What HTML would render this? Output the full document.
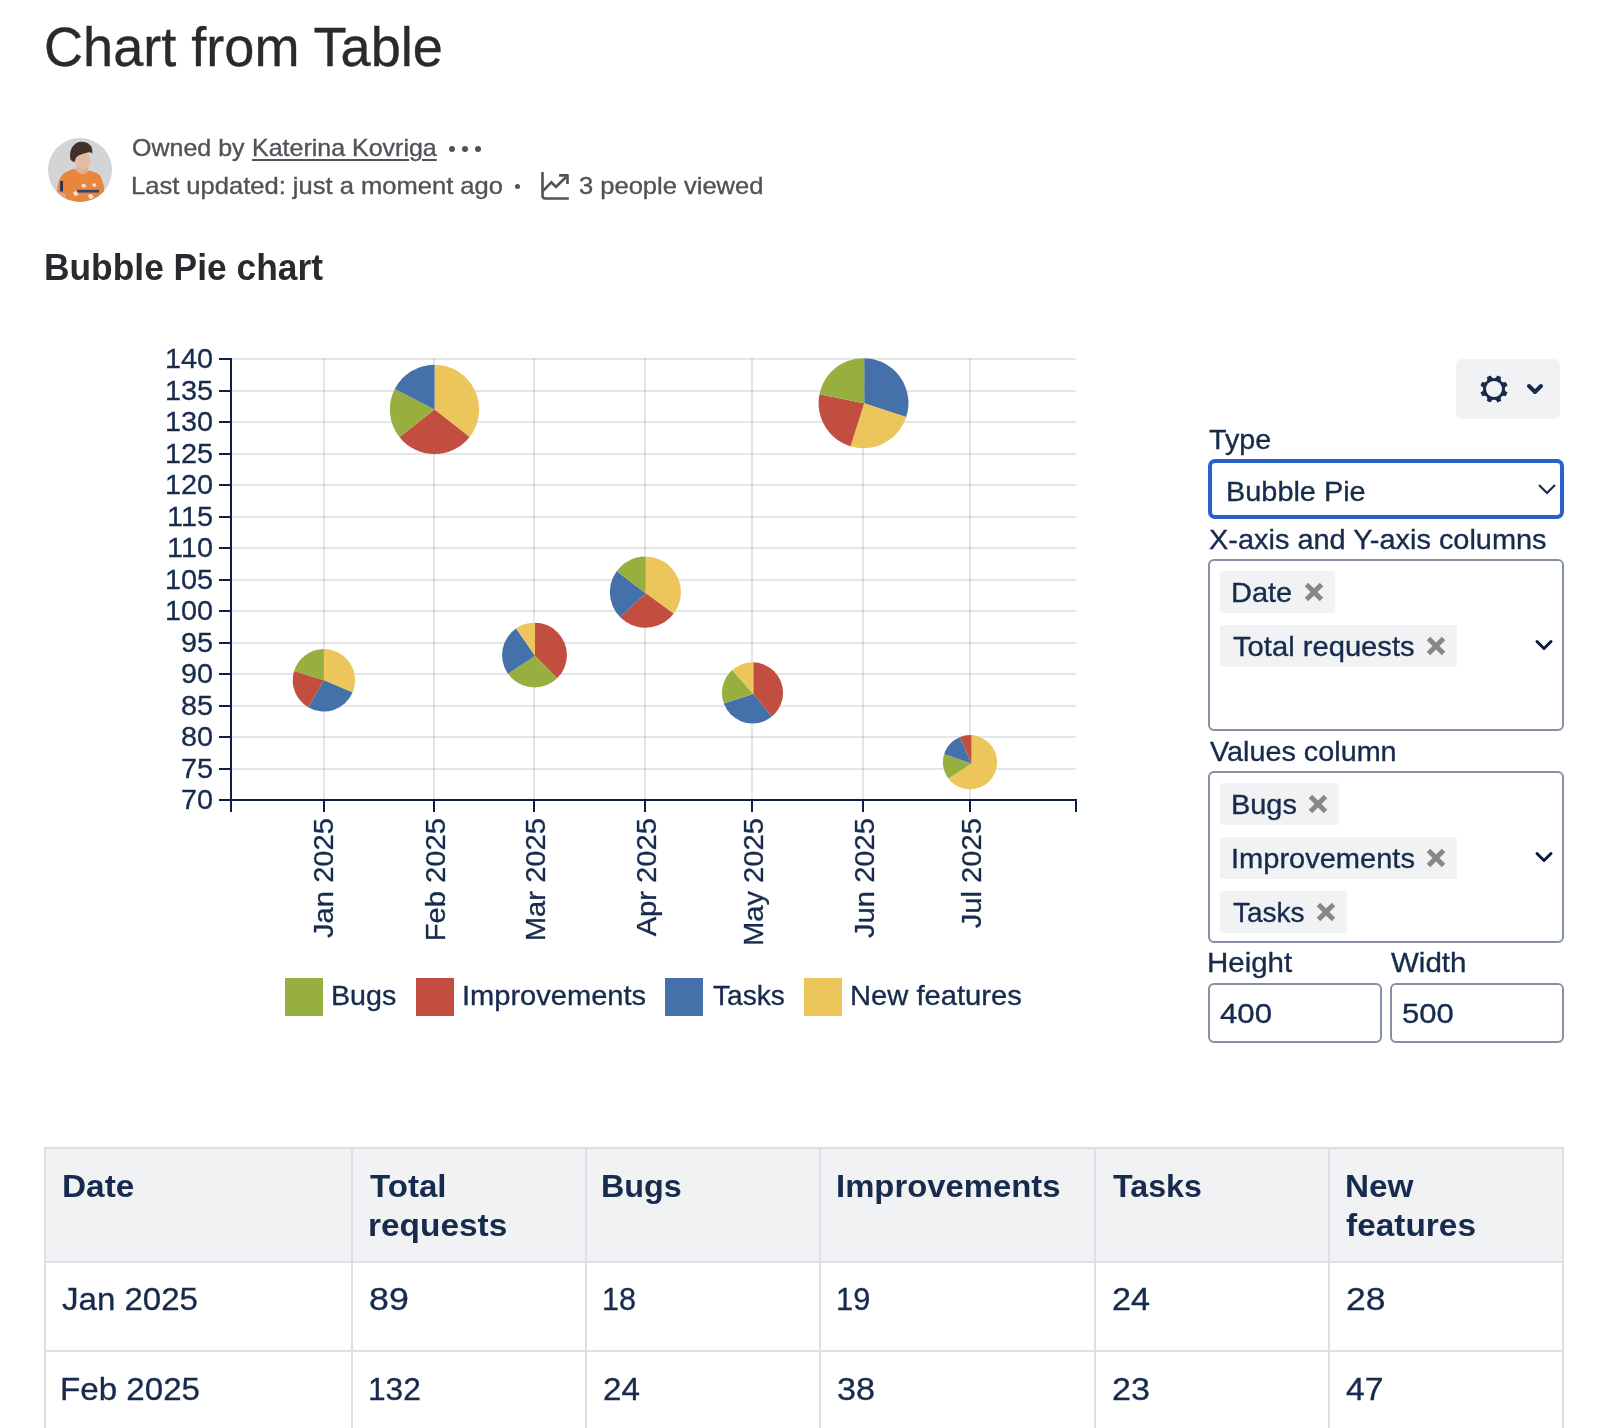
<!DOCTYPE html>
<html><head><meta charset="utf-8"><title>Chart from Table</title>
<style>
html,body{margin:0;padding:0;background:#fff;}
body{width:1600px;height:1428px;position:relative;overflow:hidden;font-family:"Liberation Sans", sans-serif;}
.t{position:absolute;white-space:pre;}
.r{-webkit-text-stroke:0.35px currentColor;}
.a{position:absolute;}
</style></head><body>
<div class="t r" style="left:44.26px;top:19.40px;font-size:56px;line-height:56px;color:#292A2E;font-weight:400;letter-spacing:0px;transform:scaleX(0.9659);transform-origin:0 0;">Chart from Table</div>
<svg class="a" style="left:48px;top:138px" width="64" height="64" viewBox="0 0 64 64">
<defs><clipPath id="av"><circle cx="32" cy="32" r="32"/></clipPath>
<filter id="bl" x="-10%" y="-10%" width="120%" height="120%"><feGaussianBlur stdDeviation="0.6"/></filter></defs>
<g clip-path="url(#av)">
<rect width="64" height="64" fill="#D3D4D5"/>
<g filter="url(#bl)">
<rect x="28.5" y="27" width="11.5" height="10" fill="#DDB096"/>
<ellipse cx="34.5" cy="22.5" rx="8" ry="9" fill="#E3BCA2"/>
<path d="M22.3,21 C21,12 25,4.5 33,3.8 C40,3.5 45.5,8 44.2,15.5 C43,14.5 41.5,14 40,14.5 C36,15.2 31,16.5 28,19.5 L26.5,24 C24.5,23.5 23,22.5 22.3,21Z" fill="#3F3129"/>
<path d="M9,54 C9.5,45 12,38 17,34.5 C21,32.5 24,31.5 27,30.8 C29.5,34.5 32,36.3 35,36.3 C37.5,36.3 39.5,34.5 40.5,32.3 C45,33.5 49,35 51.5,37 C54.5,41 56,48 56.5,54 L57,64 L8,64 Z" fill="#E8863C"/>
<path d="M9,53.8 L17.5,55.5 L18,61 L10,59Z" fill="#D8A58A"/>
<rect x="12.2" y="43" width="2.8" height="10.5" fill="#22305E"/>
<path d="M29,51.8 H51 V54.6 H29Z" fill="#3A3F70"/>
<path d="M33,47 l3.5,-1.5 l2,3 l-3.5,1.5Z M44,46 l3,-1 l1.5,3 l-3,1Z M25,54 l4,-1 l1.5,4 l-4,1Z M40,57 l4,-1 l1.5,4 l-4,1Z" fill="#F2E4DA"/>
</g>
</g></svg>
<div class="t r" style="left:131.95px;top:135.58px;font-size:24px;line-height:24px;color:#505258;font-weight:400;letter-spacing:0px;transform:scaleX(1.0415);transform-origin:0 0;">Owned by</div>
<div class="t r" style="left:251.82px;top:135.58px;font-size:24px;line-height:24px;color:#505258;font-weight:400;letter-spacing:0px;transform:scaleX(1.0411);transform-origin:0 0;text-decoration:underline;text-decoration-thickness:2px;text-underline-offset:3px;">Katerina Kovriga</div>
<div class="a" style="left:448.5px;top:145.6px;width:6.4px;height:6.4px;border-radius:50%;background:#505258"></div>
<div class="a" style="left:461.8px;top:145.6px;width:6.4px;height:6.4px;border-radius:50%;background:#505258"></div>
<div class="a" style="left:474.8px;top:145.6px;width:6.4px;height:6.4px;border-radius:50%;background:#505258"></div>
<div class="t r" style="left:131.08px;top:173.58px;font-size:24px;line-height:24px;color:#505258;font-weight:400;letter-spacing:0px;transform:scaleX(1.0640);transform-origin:0 0;">Last updated: just a moment ago</div>
<div class="a" style="left:514.6px;top:184.1px;width:5px;height:5px;border-radius:50%;background:#505258"></div>
<svg class="a" style="left:536px;top:168px" width="40" height="36" viewBox="536 168 40 36">
<path d="M542.5,172V195.5Q542.5,198.5 545.5,198.5H568.8" fill="none" stroke="#505258" stroke-width="2.6"/>
<path d="M543,190.8L551.4,182.4L556,187L566,177" fill="none" stroke="#505258" stroke-width="2.6" stroke-linejoin="miter"/>
<path d="M559.1,175.4H567.5V183.9" fill="none" stroke="#505258" stroke-width="2.6" stroke-linejoin="round"/>
</svg>
<div class="t r" style="left:579.34px;top:173.58px;font-size:24px;line-height:24px;color:#505258;font-weight:400;letter-spacing:0px;transform:scaleX(1.0630);transform-origin:0 0;">3 people viewed</div>
<div class="t" style="left:44.04px;top:250.13px;font-size:36px;line-height:36px;color:#292A2E;font-weight:700;letter-spacing:0px;transform:scaleX(0.9819);transform-origin:0 0;">Bubble Pie chart</div>
<svg class="a" style="left:0;top:0;will-change:transform" width="1100" height="960" viewBox="0 0 1100 960" font-family='"Liberation Sans", sans-serif'><rect x="231" y="358" width="845" height="2" fill="rgba(9,30,66,0.11)"/>
<rect x="231" y="390" width="845" height="2" fill="rgba(9,30,66,0.11)"/>
<rect x="231" y="421" width="845" height="2" fill="rgba(9,30,66,0.11)"/>
<rect x="231" y="453" width="845" height="2" fill="rgba(9,30,66,0.11)"/>
<rect x="231" y="484" width="845" height="2" fill="rgba(9,30,66,0.11)"/>
<rect x="231" y="516" width="845" height="2" fill="rgba(9,30,66,0.11)"/>
<rect x="231" y="547" width="845" height="2" fill="rgba(9,30,66,0.11)"/>
<rect x="231" y="579" width="845" height="2" fill="rgba(9,30,66,0.11)"/>
<rect x="231" y="610" width="845" height="2" fill="rgba(9,30,66,0.11)"/>
<rect x="231" y="642" width="845" height="2" fill="rgba(9,30,66,0.11)"/>
<rect x="231" y="673" width="845" height="2" fill="rgba(9,30,66,0.11)"/>
<rect x="231" y="705" width="845" height="2" fill="rgba(9,30,66,0.11)"/>
<rect x="231" y="736" width="845" height="2" fill="rgba(9,30,66,0.11)"/>
<rect x="231" y="768" width="845" height="2" fill="rgba(9,30,66,0.11)"/>
<rect x="231" y="799" width="845" height="2" fill="rgba(9,30,66,0.11)"/>
<rect x="323" y="358" width="2" height="442" fill="rgba(9,30,66,0.11)"/>
<rect x="433" y="358" width="2" height="442" fill="rgba(9,30,66,0.11)"/>
<rect x="533" y="358" width="2" height="442" fill="rgba(9,30,66,0.11)"/>
<rect x="644" y="358" width="2" height="442" fill="rgba(9,30,66,0.11)"/>
<rect x="751" y="358" width="2" height="442" fill="rgba(9,30,66,0.11)"/>
<rect x="862" y="358" width="2" height="442" fill="rgba(9,30,66,0.11)"/>
<rect x="969" y="358" width="2" height="442" fill="rgba(9,30,66,0.11)"/>
<path d="M323.90,680.30L323.90,649.10A31.20,31.20 0 0 1 352.57,692.62Z" fill="#ECC55B"/><path d="M323.90,680.30L352.57,692.62A31.20,31.20 0 0 1 308.14,707.23Z" fill="#4471AA"/><path d="M323.90,680.30L308.14,707.23A31.20,31.20 0 0 1 294.09,671.08Z" fill="#C14E3E"/><path d="M323.90,680.30L294.09,671.08A31.20,31.20 0 0 1 323.90,649.10Z" fill="#97AF3E"/>
<path d="M434.50,409.40L434.50,364.76A44.64,44.64 0 0 1 469.59,436.99Z" fill="#ECC55B"/><path d="M434.50,409.40L469.59,436.99A44.64,44.64 0 0 1 399.41,436.99Z" fill="#C14E3E"/><path d="M434.50,409.40L399.41,436.99A44.64,44.64 0 0 1 394.82,388.94Z" fill="#97AF3E"/><path d="M434.50,409.40L394.82,388.94A44.64,44.64 0 0 1 434.50,364.76Z" fill="#4471AA"/>
<clipPath id="pc534"><circle cx="534.50" cy="655.10" r="32.45"/></clipPath>
<g clip-path="url(#pc534)"><path d="M535.00,655.70L535.00,620.25A35.45,35.45 0 0 1 559.86,680.98Z" fill="#C14E3E"/><path d="M535.00,655.70L559.86,680.98A35.45,35.45 0 0 1 505.56,675.46Z" fill="#97AF3E"/><path d="M535.00,655.70L505.56,675.46A35.45,35.45 0 0 1 514.75,626.60Z" fill="#4471AA"/><path d="M535.00,655.70L514.75,626.60A35.45,35.45 0 0 1 535.00,620.25Z" fill="#ECC55B"/></g>
<clipPath id="pc645"><circle cx="645.40" cy="592.10" r="35.58"/></clipPath>
<g clip-path="url(#pc645)"><path d="M645.70,593.30L645.70,554.72A38.58,38.58 0 0 1 676.98,615.88Z" fill="#ECC55B"/><path d="M645.70,593.30L676.98,615.88A38.58,38.58 0 0 1 617.40,619.52Z" fill="#C14E3E"/><path d="M645.70,593.30L617.40,619.52A38.58,38.58 0 0 1 615.12,569.78Z" fill="#4471AA"/><path d="M645.70,593.30L615.12,569.78A38.58,38.58 0 0 1 645.70,554.72Z" fill="#97AF3E"/></g>
<clipPath id="pc752"><circle cx="752.50" cy="692.90" r="30.58"/></clipPath>
<g clip-path="url(#pc752)"><path d="M753.30,694.00L753.30,660.42A33.58,33.58 0 0 1 774.57,719.98Z" fill="#C14E3E"/><path d="M753.30,694.00L774.57,719.98A33.58,33.58 0 0 1 721.29,704.15Z" fill="#4471AA"/><path d="M753.30,694.00L721.29,704.15A33.58,33.58 0 0 1 731.10,668.81Z" fill="#97AF3E"/><path d="M753.30,694.00L731.10,668.81A33.58,33.58 0 0 1 753.30,660.42Z" fill="#ECC55B"/></g>
<clipPath id="pc863"><circle cx="863.50" cy="403.10" r="44.95"/></clipPath>
<g clip-path="url(#pc863)"><path d="M864.20,403.30L864.20,355.35A47.95,47.95 0 0 1 909.74,418.33Z" fill="#4471AA"/><path d="M864.20,403.30L909.74,418.33A47.95,47.95 0 0 1 849.71,449.01Z" fill="#ECC55B"/><path d="M864.20,403.30L849.71,449.01A47.95,47.95 0 0 1 817.21,393.74Z" fill="#C14E3E"/><path d="M864.20,403.30L817.21,393.74A47.95,47.95 0 0 1 864.20,355.35Z" fill="#97AF3E"/></g>
<clipPath id="pc970"><circle cx="970.00" cy="762.20" r="27.14"/></clipPath>
<g clip-path="url(#pc970)"><path d="M971.50,763.50L971.50,733.36A30.14,30.14 0 1 1 946.27,779.99Z" fill="#ECC55B"/><path d="M971.50,763.50L946.27,779.99A30.14,30.14 0 0 1 942.99,753.71Z" fill="#97AF3E"/><path d="M971.50,763.50L942.99,753.71A30.14,30.14 0 0 1 959.39,735.90Z" fill="#4471AA"/><path d="M971.50,763.50L959.39,735.90A30.14,30.14 0 0 1 971.50,733.36Z" fill="#C14E3E"/></g>
<rect x="230" y="358" width="2" height="443" fill="#0E1E44"/>
<rect x="219" y="358" width="12" height="2" fill="#0E1E44"/>
<text transform="translate(213,367.80) scale(1.03,1)" text-anchor="end" font-size="28" fill="#172B4D" stroke="#172B4D" stroke-width="0.3">140</text>
<rect x="219" y="390" width="12" height="2" fill="#0E1E44"/>
<text transform="translate(213,399.80) scale(1.03,1)" text-anchor="end" font-size="28" fill="#172B4D" stroke="#172B4D" stroke-width="0.3">135</text>
<rect x="219" y="421" width="12" height="2" fill="#0E1E44"/>
<text transform="translate(213,430.80) scale(1.03,1)" text-anchor="end" font-size="28" fill="#172B4D" stroke="#172B4D" stroke-width="0.3">130</text>
<rect x="219" y="453" width="12" height="2" fill="#0E1E44"/>
<text transform="translate(213,462.80) scale(1.03,1)" text-anchor="end" font-size="28" fill="#172B4D" stroke="#172B4D" stroke-width="0.3">125</text>
<rect x="219" y="484" width="12" height="2" fill="#0E1E44"/>
<text transform="translate(213,493.80) scale(1.03,1)" text-anchor="end" font-size="28" fill="#172B4D" stroke="#172B4D" stroke-width="0.3">120</text>
<rect x="219" y="516" width="12" height="2" fill="#0E1E44"/>
<text transform="translate(213,525.80) scale(1.03,1)" text-anchor="end" font-size="28" fill="#172B4D" stroke="#172B4D" stroke-width="0.3">115</text>
<rect x="219" y="547" width="12" height="2" fill="#0E1E44"/>
<text transform="translate(213,556.80) scale(1.03,1)" text-anchor="end" font-size="28" fill="#172B4D" stroke="#172B4D" stroke-width="0.3">110</text>
<rect x="219" y="579" width="12" height="2" fill="#0E1E44"/>
<text transform="translate(213,588.80) scale(1.03,1)" text-anchor="end" font-size="28" fill="#172B4D" stroke="#172B4D" stroke-width="0.3">105</text>
<rect x="219" y="610" width="12" height="2" fill="#0E1E44"/>
<text transform="translate(213,619.80) scale(1.03,1)" text-anchor="end" font-size="28" fill="#172B4D" stroke="#172B4D" stroke-width="0.3">100</text>
<rect x="219" y="642" width="12" height="2" fill="#0E1E44"/>
<text transform="translate(213,651.80) scale(1.03,1)" text-anchor="end" font-size="28" fill="#172B4D" stroke="#172B4D" stroke-width="0.3">95</text>
<rect x="219" y="673" width="12" height="2" fill="#0E1E44"/>
<text transform="translate(213,682.80) scale(1.03,1)" text-anchor="end" font-size="28" fill="#172B4D" stroke="#172B4D" stroke-width="0.3">90</text>
<rect x="219" y="705" width="12" height="2" fill="#0E1E44"/>
<text transform="translate(213,714.80) scale(1.03,1)" text-anchor="end" font-size="28" fill="#172B4D" stroke="#172B4D" stroke-width="0.3">85</text>
<rect x="219" y="736" width="12" height="2" fill="#0E1E44"/>
<text transform="translate(213,745.80) scale(1.03,1)" text-anchor="end" font-size="28" fill="#172B4D" stroke="#172B4D" stroke-width="0.3">80</text>
<rect x="219" y="768" width="12" height="2" fill="#0E1E44"/>
<text transform="translate(213,777.80) scale(1.03,1)" text-anchor="end" font-size="28" fill="#172B4D" stroke="#172B4D" stroke-width="0.3">75</text>
<rect x="219" y="799" width="12" height="2" fill="#0E1E44"/>
<text transform="translate(213,808.80) scale(1.03,1)" text-anchor="end" font-size="28" fill="#172B4D" stroke="#172B4D" stroke-width="0.3">70</text>
<rect x="230" y="799" width="847" height="2" fill="#0E1E44"/>
<rect x="230" y="799" width="2" height="13" fill="#0E1E44"/>
<rect x="1075" y="799" width="2" height="13" fill="#0E1E44"/>
<rect x="323" y="800" width="2" height="12" fill="#0E1E44"/>
<text transform="translate(333.20,818) rotate(-90) scale(1.042,1)" text-anchor="end" font-size="28" fill="#172B4D" stroke="#172B4D" stroke-width="0.3">Jan 2025</text>
<rect x="433" y="800" width="2" height="12" fill="#0E1E44"/>
<text transform="translate(444.60,818) rotate(-90) scale(1.042,1)" text-anchor="end" font-size="28" fill="#172B4D" stroke="#172B4D" stroke-width="0.3">Feb 2025</text>
<rect x="533" y="800" width="2" height="12" fill="#0E1E44"/>
<text transform="translate(544.50,818) rotate(-90) scale(1.042,1)" text-anchor="end" font-size="28" fill="#172B4D" stroke="#172B4D" stroke-width="0.3">Mar 2025</text>
<rect x="644" y="800" width="2" height="12" fill="#0E1E44"/>
<text transform="translate(655.50,818) rotate(-90) scale(1.042,1)" text-anchor="end" font-size="28" fill="#172B4D" stroke="#172B4D" stroke-width="0.3">Apr 2025</text>
<rect x="751" y="800" width="2" height="12" fill="#0E1E44"/>
<text transform="translate(762.80,818) rotate(-90) scale(1.042,1)" text-anchor="end" font-size="28" fill="#172B4D" stroke="#172B4D" stroke-width="0.3">May 2025</text>
<rect x="862" y="800" width="2" height="12" fill="#0E1E44"/>
<text transform="translate(873.60,818) rotate(-90) scale(1.042,1)" text-anchor="end" font-size="28" fill="#172B4D" stroke="#172B4D" stroke-width="0.3">Jun 2025</text>
<rect x="969" y="800" width="2" height="12" fill="#0E1E44"/>
<text transform="translate(980.50,818) rotate(-90) scale(1.042,1)" text-anchor="end" font-size="28" fill="#172B4D" stroke="#172B4D" stroke-width="0.3">Jul 2025</text></svg>
<div class="a" style="left:285px;top:978px;width:38px;height:38px;background:#97AF3E"></div>
<div class="t r" style="left:331.26px;top:982.10px;font-size:28px;line-height:28px;color:#172B4D;font-weight:400;letter-spacing:0px;transform:scaleX(1.0221);transform-origin:0 0;">Bugs</div>
<div class="a" style="left:416px;top:978px;width:38px;height:38px;background:#C14E3E"></div>
<div class="t r" style="left:462.23px;top:982.10px;font-size:28px;line-height:28px;color:#172B4D;font-weight:400;letter-spacing:0px;transform:scaleX(1.0377);transform-origin:0 0;">Improvements</div>
<div class="a" style="left:665px;top:978px;width:38px;height:38px;background:#4471AA"></div>
<div class="t r" style="left:713.26px;top:982.10px;font-size:28px;line-height:28px;color:#172B4D;font-weight:400;letter-spacing:0px;transform:scaleX(1.0034);transform-origin:0 0;">Tasks</div>
<div class="a" style="left:804px;top:978px;width:38px;height:38px;background:#ECC55B"></div>
<div class="t r" style="left:850.12px;top:982.10px;font-size:28px;line-height:28px;color:#172B4D;font-weight:400;letter-spacing:0px;transform:scaleX(1.0414);transform-origin:0 0;">New features</div>
<div class="a" style="left:1456px;top:359px;width:104px;height:60px;border-radius:6px;background:#F1F2F4"></div>
<svg class="a" style="left:1470px;top:365px" width="80" height="50" viewBox="1470 365 80 50">
<circle cx="1494" cy="389" r="13.75" fill="#172B4D"/>
<circle cx="1494.00" cy="375.10" r="3.1" fill="#F1F2F4"/><circle cx="1503.83" cy="379.17" r="3.1" fill="#F1F2F4"/><circle cx="1507.90" cy="389.00" r="3.1" fill="#F1F2F4"/><circle cx="1503.83" cy="398.83" r="3.1" fill="#F1F2F4"/><circle cx="1494.00" cy="402.90" r="3.1" fill="#F1F2F4"/><circle cx="1484.17" cy="398.83" r="3.1" fill="#F1F2F4"/><circle cx="1480.10" cy="389.00" r="3.1" fill="#F1F2F4"/><circle cx="1484.17" cy="379.17" r="3.1" fill="#F1F2F4"/>
<circle cx="1494" cy="389" r="8" fill="#F1F2F4"/>
<path d="M1529,386L1535,392L1541,386" fill="none" stroke="#172B4D" stroke-width="4" stroke-linecap="round" stroke-linejoin="round"/>
</svg>
<div class="t r" style="left:1209.05px;top:425.55px;font-size:28px;line-height:28px;color:#172B4D;font-weight:400;letter-spacing:0px;transform:scaleX(1.0232);transform-origin:0 0;">Type</div>
<div class="a" style="left:1208px;top:459px;width:356px;height:60px;box-sizing:border-box;border:4px solid #2761CC;border-radius:7px"></div>
<div class="t r" style="left:1226.49px;top:477.55px;font-size:28px;line-height:28px;color:#172B4D;font-weight:400;letter-spacing:0px;transform:scaleX(1.0313);transform-origin:0 0;">Bubble Pie</div>
<svg class="a" style="left:1530px;top:475px" width="30" height="30" viewBox="1530 475 30 30">
<path d="M1539,485L1547,493L1555,485" fill="none" stroke="#172B4D" stroke-width="2.2"/></svg>
<div class="t r" style="left:1209.05px;top:525.55px;font-size:28px;line-height:28px;color:#172B4D;font-weight:400;letter-spacing:0px;transform:scaleX(1.0329);transform-origin:0 0;">X-axis and Y-axis columns</div>
<div class="a" style="left:1208px;top:559px;width:356px;height:172px;box-sizing:border-box;border:2px solid #8590A2;border-radius:6px"></div>
<div class="a" style="left:1220px;top:571px;width:115px;height:42px;border-radius:3px;background:#F1F2F4"></div>
<div class="t r" style="left:1231.24px;top:578.50px;font-size:28px;line-height:28px;color:#172B4D;font-weight:400;letter-spacing:0px;transform:scaleX(1.0345);transform-origin:0 0;">Date</div>
<svg class="a" style="left:1304px;top:582.0px" width="20" height="20" viewBox="1304 582.0 20 20"><path d="M1306.5,584.5L1321.5,599.5M1321.5,584.5L1306.5,599.5" stroke="#888888" stroke-width="5"/></svg>

<div class="a" style="left:1220px;top:625px;width:237px;height:42px;border-radius:3px;background:#F1F2F4"></div>
<div class="t r" style="left:1233.04px;top:632.50px;font-size:28px;line-height:28px;color:#172B4D;font-weight:400;letter-spacing:0px;transform:scaleX(1.0419);transform-origin:0 0;">Total requests</div>
<svg class="a" style="left:1426px;top:636.0px" width="20" height="20" viewBox="1426 636.0 20 20"><path d="M1428.5,638.5L1443.5,653.5M1443.5,638.5L1428.5,653.5" stroke="#888888" stroke-width="5"/></svg>

<svg class="a" style="left:1530px;top:629.5px" width="30" height="30" viewBox="1530 629.5 30 30"><path d="M1537,641.0L1544,648.0L1551,641.0" fill="none" stroke="#0C1A3F" stroke-width="3" stroke-linecap="round" stroke-linejoin="round"/></svg>
<div class="t r" style="left:1209.50px;top:737.55px;font-size:28px;line-height:28px;color:#172B4D;font-weight:400;letter-spacing:0px;transform:scaleX(1.0278);transform-origin:0 0;">Values column</div>
<div class="a" style="left:1208px;top:771px;width:356px;height:172px;box-sizing:border-box;border:2px solid #8590A2;border-radius:6px"></div>
<div class="a" style="left:1220px;top:783px;width:119px;height:42px;border-radius:3px;background:#F1F2F4"></div>
<div class="t r" style="left:1231.24px;top:790.50px;font-size:28px;line-height:28px;color:#172B4D;font-weight:400;letter-spacing:0px;transform:scaleX(1.0328);transform-origin:0 0;">Bugs</div>
<svg class="a" style="left:1308px;top:794.0px" width="20" height="20" viewBox="1308 794.0 20 20"><path d="M1310.5,796.5L1325.5,811.5M1325.5,796.5L1310.5,811.5" stroke="#888888" stroke-width="5"/></svg>

<div class="a" style="left:1220px;top:837px;width:237px;height:42px;border-radius:3px;background:#F1F2F4"></div>
<div class="t r" style="left:1231.23px;top:844.50px;font-size:28px;line-height:28px;color:#172B4D;font-weight:400;letter-spacing:0px;transform:scaleX(1.0368);transform-origin:0 0;">Improvements</div>
<svg class="a" style="left:1426px;top:848.0px" width="20" height="20" viewBox="1426 848.0 20 20"><path d="M1428.5,850.5L1443.5,865.5M1443.5,850.5L1428.5,865.5" stroke="#888888" stroke-width="5"/></svg>

<div class="a" style="left:1220px;top:891px;width:127px;height:42px;border-radius:3px;background:#F1F2F4"></div>
<div class="t r" style="left:1233.06px;top:898.50px;font-size:28px;line-height:28px;color:#172B4D;font-weight:400;letter-spacing:0px;transform:scaleX(0.9999);transform-origin:0 0;">Tasks</div>
<svg class="a" style="left:1316px;top:902.0px" width="20" height="20" viewBox="1316 902.0 20 20"><path d="M1318.5,904.5L1333.5,919.5M1333.5,904.5L1318.5,919.5" stroke="#888888" stroke-width="5"/></svg>

<svg class="a" style="left:1530px;top:842px" width="30" height="30" viewBox="1530 842 30 30"><path d="M1537,853.5L1544,860.5L1551,853.5" fill="none" stroke="#0C1A3F" stroke-width="3" stroke-linecap="round" stroke-linejoin="round"/></svg>
<div class="t r" style="left:1207.20px;top:949.30px;font-size:28px;line-height:28px;color:#172B4D;font-weight:400;letter-spacing:0px;transform:scaleX(1.0527);transform-origin:0 0;">Height</div>
<div class="t r" style="left:1391.25px;top:949.30px;font-size:28px;line-height:28px;color:#172B4D;font-weight:400;letter-spacing:0px;transform:scaleX(1.0536);transform-origin:0 0;">Width</div>
<div class="a" style="left:1208px;top:983px;width:174px;height:60px;box-sizing:border-box;border:2px solid #8590A2;border-radius:6px"></div>
<div class="a" style="left:1390px;top:983px;width:174px;height:60px;box-sizing:border-box;border:2px solid #8590A2;border-radius:6px"></div>
<div class="t r" style="left:1220.01px;top:999.55px;font-size:28px;line-height:28px;color:#172B4D;font-weight:400;letter-spacing:0px;transform:scaleX(1.1134);transform-origin:0 0;">400</div>
<div class="t r" style="left:1401.53px;top:999.55px;font-size:28px;line-height:28px;color:#172B4D;font-weight:400;letter-spacing:0px;transform:scaleX(1.1076);transform-origin:0 0;">500</div>
<div class="a" style="left:44px;top:1147px;width:1520px;height:116px;background:#F1F2F4"></div>
<div class="a" style="left:44px;top:1147px;width:1520px;height:2px;background:#DCDFE4"></div>
<div class="a" style="left:44px;top:1261px;width:1520px;height:2px;background:#DCDFE4"></div>
<div class="a" style="left:44px;top:1350px;width:1520px;height:2px;background:#DCDFE4"></div>
<div class="a" style="left:44px;top:1147px;width:2px;height:300px;background:#DCDFE4"></div>
<div class="a" style="left:351px;top:1147px;width:2px;height:300px;background:#DCDFE4"></div>
<div class="a" style="left:585px;top:1147px;width:2px;height:300px;background:#DCDFE4"></div>
<div class="a" style="left:819px;top:1147px;width:2px;height:300px;background:#DCDFE4"></div>
<div class="a" style="left:1094px;top:1147px;width:2px;height:300px;background:#DCDFE4"></div>
<div class="a" style="left:1328px;top:1147px;width:2px;height:300px;background:#DCDFE4"></div>
<div class="a" style="left:1562px;top:1147px;width:2px;height:300px;background:#DCDFE4"></div>
<div class="t" style="left:61.91px;top:1169.66px;font-size:32px;line-height:32px;color:#172B4D;font-weight:700;letter-spacing:0px;transform:scaleX(1.0426);transform-origin:0 0;">Date</div>
<div class="t" style="left:369.70px;top:1169.66px;font-size:32px;line-height:32px;color:#172B4D;font-weight:700;letter-spacing:0px;transform:scaleX(1.0336);transform-origin:0 0;">Total</div>
<div class="t" style="left:367.61px;top:1209.26px;font-size:32px;line-height:32px;color:#172B4D;font-weight:700;letter-spacing:0px;transform:scaleX(1.0439);transform-origin:0 0;">requests</div>
<div class="t" style="left:601.38px;top:1169.66px;font-size:32px;line-height:32px;color:#172B4D;font-weight:700;letter-spacing:0px;transform:scaleX(1.0104);transform-origin:0 0;">Bugs</div>
<div class="t" style="left:835.95px;top:1169.66px;font-size:32px;line-height:32px;color:#172B4D;font-weight:700;letter-spacing:0px;transform:scaleX(1.0267);transform-origin:0 0;">Improvements</div>
<div class="t" style="left:1113.10px;top:1169.66px;font-size:32px;line-height:32px;color:#172B4D;font-weight:700;letter-spacing:0px;transform:scaleX(1.0050);transform-origin:0 0;">Tasks</div>
<div class="t" style="left:1345.42px;top:1169.66px;font-size:32px;line-height:32px;color:#172B4D;font-weight:700;letter-spacing:0px;transform:scaleX(1.0406);transform-origin:0 0;">New</div>
<div class="t" style="left:1346.38px;top:1209.26px;font-size:32px;line-height:32px;color:#172B4D;font-weight:700;letter-spacing:0px;transform:scaleX(1.0440);transform-origin:0 0;">features</div>
<div class="t r" style="left:62.18px;top:1283.31px;font-size:32px;line-height:32px;color:#172B4D;font-weight:400;letter-spacing:0px;transform:scaleX(1.0325);transform-origin:0 0;">Jan 2025</div>
<div class="t r" style="left:368.88px;top:1283.31px;font-size:32px;line-height:32px;color:#172B4D;font-weight:400;letter-spacing:0px;transform:scaleX(1.1172);transform-origin:0 0;">89</div>
<div class="t r" style="left:602.49px;top:1283.31px;font-size:32px;line-height:32px;color:#172B4D;font-weight:400;letter-spacing:0px;transform:scaleX(0.9567);transform-origin:0 0;">18</div>
<div class="t r" style="left:836.17px;top:1283.31px;font-size:32px;line-height:32px;color:#172B4D;font-weight:400;letter-spacing:0px;transform:scaleX(0.9629);transform-origin:0 0;">19</div>
<div class="t r" style="left:1112.10px;top:1283.31px;font-size:32px;line-height:32px;color:#172B4D;font-weight:400;letter-spacing:0px;transform:scaleX(1.0692);transform-origin:0 0;">24</div>
<div class="t r" style="left:1345.64px;top:1283.31px;font-size:32px;line-height:32px;color:#172B4D;font-weight:400;letter-spacing:0px;transform:scaleX(1.1099);transform-origin:0 0;">28</div>
<div class="t r" style="left:60.11px;top:1372.91px;font-size:32px;line-height:32px;color:#172B4D;font-weight:400;letter-spacing:0px;transform:scaleX(1.0356);transform-origin:0 0;">Feb 2025</div>
<div class="t r" style="left:368.02px;top:1372.91px;font-size:32px;line-height:32px;color:#172B4D;font-weight:400;letter-spacing:0px;transform:scaleX(0.9881);transform-origin:0 0;">132</div>
<div class="t r" style="left:602.84px;top:1372.91px;font-size:32px;line-height:32px;color:#172B4D;font-weight:400;letter-spacing:0px;transform:scaleX(1.0391);transform-origin:0 0;">24</div>
<div class="t r" style="left:837.03px;top:1372.91px;font-size:32px;line-height:32px;color:#172B4D;font-weight:400;letter-spacing:0px;transform:scaleX(1.0692);transform-origin:0 0;">38</div>
<div class="t r" style="left:1112.10px;top:1372.91px;font-size:32px;line-height:32px;color:#172B4D;font-weight:400;letter-spacing:0px;transform:scaleX(1.0641);transform-origin:0 0;">23</div>
<div class="t r" style="left:1346.47px;top:1372.91px;font-size:32px;line-height:32px;color:#172B4D;font-weight:400;letter-spacing:0px;transform:scaleX(1.0504);transform-origin:0 0;">47</div>
</body></html>
